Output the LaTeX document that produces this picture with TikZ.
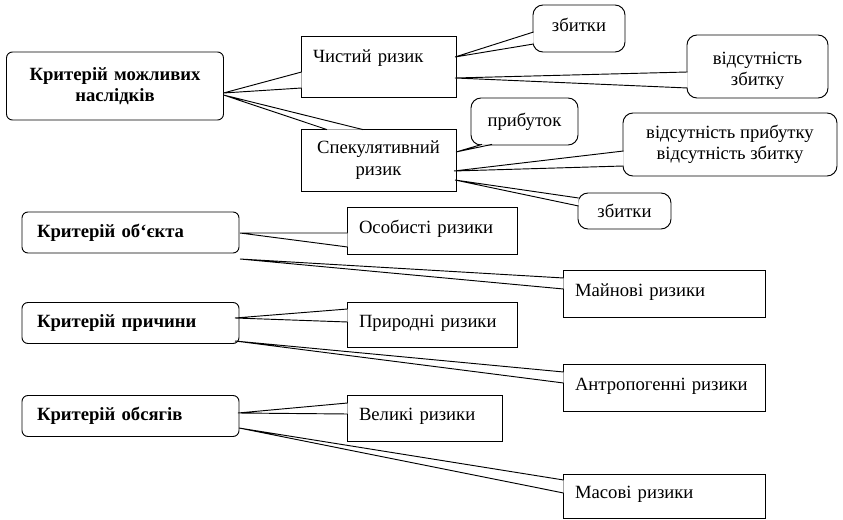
\documentclass[tikz,border=0pt]{standalone}
\usepackage{fontspec}
\setmainfont{Liberation Serif}
\usetikzlibrary{calc}
\begin{document}
\begin{tikzpicture}[x=0.75pt,y=-0.75pt,line width=0.7pt,
every node/.style={font=\fontsize{14}{16}\selectfont,outer sep=0pt},
crit/.style={draw,rounded corners=4.5pt,font=\fontsize{14}{16}\selectfont\bfseries,minimum width=162.75pt,minimum height=30.75pt,inner xsep=11.25pt,text width=140.25pt,align=left},
rbox/.style={draw,inner xsep=9pt,align=left,text depth=5pt},
obox/.style={draw,rounded corners=7.5pt,align=center},
wedge/.style={fill=white}]
\useasboundingbox (0,0) rectangle (843,520);
\node[crit,align=center,minimum width=162pt,minimum height=51pt] (naslid) at (115,86) {Критерій можливих\\наслідків};
\node[crit] (objekt) at (130.5,232.5) {Критерій об‘єкта};
\node[crit] (prychyna) at (130.5,323) {Критерій причини};
\node[crit] (obsjah) at (130.5,416) {Критерій обсягів};
\node[rbox,minimum width=116.25pt,minimum height=45.75pt,text width=98.25pt,text depth=16pt] (chystyj) at (378.5,66.5) {Чистий ризик};
\node[draw,align=center,minimum width=116.25pt,minimum height=46.5pt] (spekul) at (378.5,160) {Спекулятивний\\ризик};
\node[obox,minimum width=69pt,minimum height=35.25pt,text depth=6pt] (zbytky1) at (579,28.5) {збитки};
\node[obox,minimum width=105.75pt,minimum height=47.25pt,text height=32pt] (vidzb) at (757.5,66.5) {відсутність\\збитку};
\node[obox,minimum width=80.25pt,minimum height=35.25pt] (prybutok) at (524.5,121.5) {прибуток};
\node[obox,minimum width=160.5pt,minimum height=47.25pt] (vidpryb) at (730,144.5) {відсутність прибутку\\відсутність збитку};
\node[obox,minimum width=69.75pt,minimum height=27pt] (zbytky2) at (624.5,211) {збитки};
\node[rbox,minimum width=127.5pt,minimum height=35.25pt,text width=109.5pt] (osobysti) at (432,230.5) {Особисті ризики};
\node[rbox,minimum width=151.5pt,minimum height=35.25pt,text width=133.5pt] (majnovi) at (664,293.5) {Майнові ризики};
\node[rbox,minimum width=127.5pt,minimum height=33.75pt,text width=109.5pt] (pryrodni) at (432,324.5) {Природні ризики};
\node[rbox,minimum width=151.5pt,minimum height=35.25pt,text width=133.5pt] (antrop) at (664,387.5) {Антропогенні ризики};
\node[rbox,minimum width=116.25pt,minimum height=34.5pt,text width=98.25pt] (velyki) at (424.5,418) {Великі ризики};
\node[rbox,minimum width=151.5pt,minimum height=33pt,text width=133.5pt] (masovi) at (664,496) {Масові ризики};
\draw[wedge] ($(chystyj.west)+(0.6,5.5)$) -- ($(naslid.east)+(0,7)$) -- ($(chystyj.west)+(0.6,21.5)$);
\draw[wedge] ($(spekul.north)+(-51.5,0.6)$) -- ($(naslid.east)+(0,9)$) -- ($(spekul.north)+(-15.5,0.6)$);
\draw[wedge] ($(zbytky1.west)+(0.6,3.5)$) -- ($(chystyj.east)+(-1,-9.5)$) -- ($(zbytky1.west)+(0.6,15.5)$);
\draw[wedge] ($(vidzb.west)+(0.6,5.5)$) -- ($(chystyj.east)+(-1,11.5)$) -- ($(vidzb.west)+(0.6,21.5)$);
\draw[wedge] ($(prybutok.south)+(-42.5,-0.6)$) -- ($(spekul.east)+(0,-8)$) -- ($(prybutok.south)+(-32.5,-0.6)$);
\draw[wedge] ($(vidpryb.west)+(0.6,6.5)$) -- ($(spekul.east)+(-2,11)$) -- ($(vidpryb.west)+(0.6,21.5)$);
\draw[wedge] ($(zbytky2.west)+(0.6,-13)$) -- ($(spekul.east)+(-1,20)$) -- ($(zbytky2.west)+(0.6,-5)$);
\draw[wedge] ($(osobysti.west)+(0.6,2.5)$) -- ($(objekt.east)+(1,0.5)$) -- ($(osobysti.west)+(0.6,16.5)$);
\draw[wedge] ($(majnovi.west)+(0.6,-15.5)$) -- ($(objekt.east)+(1,26.5)$) -- ($(majnovi.west)+(0.6,-4.5)$);
\draw[wedge] ($(pryrodni.west)+(0.6,-15.5)$) -- ($(prychyna.east)+(-4,-5)$) -- ($(pryrodni.west)+(0.6,-2.5)$);
\draw[wedge] ($(antrop.west)+(0.6,-15.5)$) -- ($(prychyna.east)+(-4,18)$) -- ($(antrop.west)+(0.6,-4.5)$);
\draw[wedge] ($(velyki.west)+(0.6,-15)$) -- ($(obsjah.east)+(-1,-3)$) -- ($(velyki.west)+(0.6,-4)$);
\draw[wedge] ($(masovi.west)+(0.6,-16)$) -- ($(obsjah.east)+(0,12)$) -- ($(masovi.west)+(0.6,-3)$);
\end{tikzpicture}
\end{document}
